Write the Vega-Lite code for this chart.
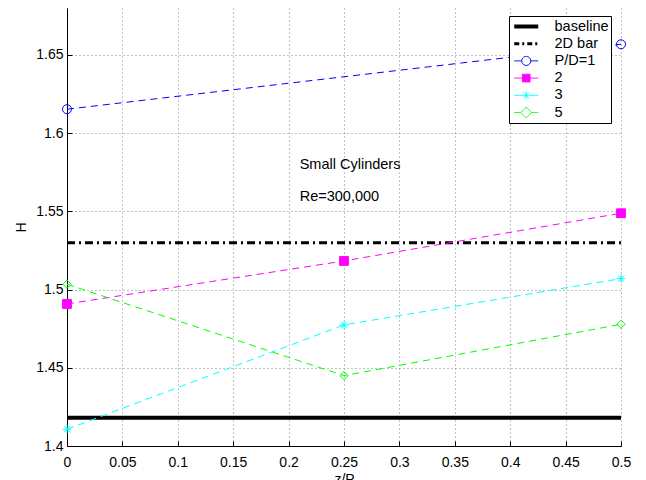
{
  "$schema": "https://vega.github.io/schema/vega-lite/v6.json",
  "width": 554,
  "height": 438,
  "autosize": "none",
  "padding": {"left": 67, "top": 8, "right": 25, "bottom": 34},
  "background": "white",
  "config": {
    "view": {"stroke": null},
    "font": "Liberation Sans",
    "axis": {
      "domainColor": "black",
      "domainWidth": 1,
      "tickColor": "black",
      "tickSize": -5,
      "labelColor": "black",
      "labelFontSize": 14,
      "labelFont": "Liberation Sans",
      "titleFont": "Liberation Sans",
      "titleFontSize": 14,
      "titleFontWeight": "normal",
      "titleColor": "black",
      "grid": true,
      "gridColor": "#808080",
      "gridDash": [1, 3],
      "gridOpacity": 1,
      "labelFlush": false,
      "labelOverlap": false
    }
  },
  "datasets": {
    "series": [
      {"series": "baseline", "z": 0, "H": 1.418},
      {"series": "baseline", "z": 0.5, "H": 1.418},
      {"series": "2D bar", "z": 0, "H": 1.53},
      {"series": "2D bar", "z": 0.5, "H": 1.53},
      {"series": "P/D=1", "z": 0, "H": 1.6153},
      {"series": "P/D=1", "z": 0.5, "H": 1.6568},
      {"series": "2", "z": 0, "H": 1.4908},
      {"series": "2", "z": 0.25, "H": 1.5183},
      {"series": "2", "z": 0.5, "H": 1.5488},
      {"series": "3", "z": 0, "H": 1.4107},
      {"series": "3", "z": 0.25, "H": 1.4774},
      {"series": "3", "z": 0.5, "H": 1.507},
      {"series": "5", "z": 0, "H": 1.5034},
      {"series": "5", "z": 0.25, "H": 1.445},
      {"series": "5", "z": 0.5, "H": 1.4778}
    ],
    "notes": [
      {"z": 0.21, "H": 1.5797, "label": "Small Cylinders"},
      {"z": 0.21, "H": 1.5594, "label": "Re=300,000"}
    ]
  },
  "layer": [
    {
      "data": {"name": "series"},
      "transform": [{"filter": "datum.series === 'baseline'"}],
      "mark": {"type": "line", "clip": false, "strokeWidth": 4},
      "encoding": {
        "x": {
          "field": "z", "type": "quantitative",
          "scale": {"domain": [0, 0.5], "nice": false, "zero": false},
          "axis": {
            "values": [0, 0.05, 0.1, 0.15, 0.2, 0.25, 0.3, 0.35, 0.4, 0.45, 0.5],
            "format": "~g",
            "labelPadding": 14,
            "title": "z/P",
            "titlePadding": 3
          }
        },
        "y": {
          "field": "H", "type": "quantitative",
          "scale": {"domain": [1.4, 1.68], "nice": false, "zero": false},
          "axis": {
            "values": [1.4, 1.45, 1.5, 1.55, 1.6, 1.65],
            "format": "~g",
            "labelPadding": 9,
            "title": "H",
            "titlePadding": 7
          }
        },
        "color": {
          "field": "series", "type": "nominal",
          "scale": {
            "domain": ["baseline", "2D bar", "P/D=1", "2", "3", "5"],
            "range": ["#000000", "#000000", "#0000ff", "#ff00ff", "#00ffff", "#00ff00"]
          },
          "legend": {
            "title": null,
            "orient": "none",
            "legendX": 442,
            "legendY": 8,
            "padding": 2,
            "strokeColor": "black",
            "fillColor": "white",
            "symbolSize": 576,
            "symbolOffset": 8,
            "labelOffset": 21,
            "clipHeight": 17,
            "rowPadding": 0.2,
            "labelFontSize": 14.5,
            "labelColor": "black",
            "labelFont": "Liberation Sans",
            "labelExpr": "datum.label + '       '",
            "encode": {
              "symbols": {
                "update": {
                  "shape": {"signal": "datum.value === 'baseline' || datum.value === '2D bar' ? 'M-1,0H1' : datum.value === 'P/D=1' ? 'M-1,0H-0.375M0.375,0H1M-0.375,0A0.375,0.375 0 1,1 0.375,0A0.375,0.375 0 1,1 -0.375,0Z' : datum.value === '2' ? 'M-1,0H1M-0.32,-0.32H0.32V0.32H-0.32Z' : datum.value === '3' ? 'M-1,0H1M0,-0.33V0.33M-0.24,-0.24L0.24,0.24M-0.24,0.24L0.24,-0.24' : 'M-1,0H-0.45M0.45,0H1M-0.45,0L0,-0.45L0.45,0L0,0.45Z'"},
                  "fill": {"signal": "datum.value === '2' ? '#ff00ff' : 'transparent'"},
                  "strokeWidth": {"signal": "datum.value === 'baseline' ? 4 : datum.value === '2D bar' ? 3 : 1"},
                  "strokeDash": {"signal": "datum.value === '2D bar' ? [5, 3, 2, 3] : [1, 0]"},
                  "opacity": {"value": 1}
                }
              }
            }
          }
        }
      }
    },
    {
      "data": {"name": "series"},
      "transform": [{"filter": "datum.series === '2D bar'"}],
      "mark": {"type": "line", "clip": false, "strokeWidth": 3, "strokeDash": [8, 4, 2, 4]},
      "encoding": {
        "x": {"field": "z", "type": "quantitative"},
        "y": {"field": "H", "type": "quantitative"},
        "color": {"field": "series", "type": "nominal"}
      }
    },
    {
      "data": {"name": "series"},
      "transform": [{"filter": "datum.series !== 'baseline' && datum.series !== '2D bar'"}],
      "mark": {"type": "line", "clip": false, "strokeWidth": 1, "strokeDash": [7, 5]},
      "encoding": {
        "x": {"field": "z", "type": "quantitative"},
        "y": {"field": "H", "type": "quantitative"},
        "color": {"field": "series", "type": "nominal"}
      }
    },
    {
      "data": {"name": "series"},
      "transform": [{"filter": "datum.series !== 'baseline' && datum.series !== '2D bar'"}],
      "mark": {"type": "point", "clip": false, "opacity": 1, "strokeWidth": 1},
      "encoding": {
        "x": {"field": "z", "type": "quantitative"},
        "y": {"field": "H", "type": "quantitative"},
        "color": {"field": "series", "type": "nominal"},
        "fill": {
          "field": "series", "type": "nominal",
          "scale": {
            "domain": ["P/D=1", "2", "3", "5"],
            "range": ["transparent", "#ff00ff", "transparent", "transparent"]
          },
          "legend": null
        },
        "shape": {
          "field": "series", "type": "nominal",
          "scale": {
            "domain": ["P/D=1", "2", "3", "5"],
            "range": ["circle", "square", "M-1,0H1M0,-1V1M-0.72,-0.72L0.72,0.72M-0.72,0.72L0.72,-0.72", "diamond"]
          },
          "legend": null
        },
        "size": {
          "field": "series", "type": "nominal",
          "scale": {
            "domain": ["P/D=1", "2", "3", "5"],
            "range": [81, 70, 64, 130]
          },
          "legend": null
        }
      }
    },
    {
      "data": {"name": "notes"},
      "mark": {"type": "text", "align": "left", "baseline": "middle", "fontSize": 14.5, "font": "Liberation Sans", "color": "black"},
      "encoding": {
        "x": {"field": "z", "type": "quantitative"},
        "y": {"field": "H", "type": "quantitative"},
        "text": {"field": "label"}
      }
    }
  ]
}
